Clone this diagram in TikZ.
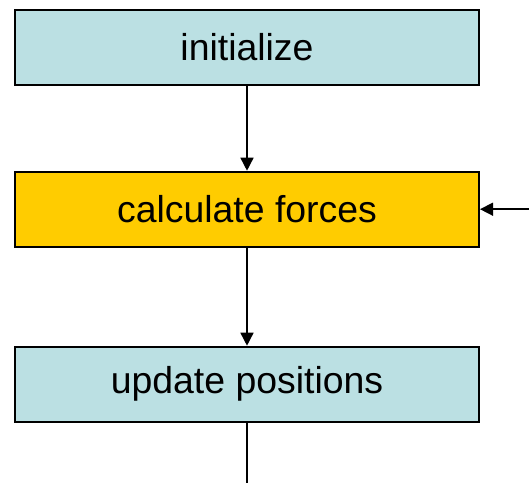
\documentclass[tikz,border=0pt]{standalone}
\usepackage{fontspec}
\setmainfont{Liberation Sans}
\usetikzlibrary{arrows.meta, positioning}
\definecolor{PaleTeal}{HTML}{BBE0E3}
\definecolor{Amber}{HTML}{FFCC00}
\tikzset{
    stepbox/.style={rectangle, draw=black, line width=1pt, fill=PaleTeal,
                    minimum width=232pt, minimum height=37.5pt, inner sep=0pt,
                    font=\fontsize{18.7}{22}\selectfont},
    flow/.style={line width=0.75pt, -{Triangle[length=6.5pt,width=6.5pt]}}
}

\begin{document}
\begin{tikzpicture}[x=0.5pt, y=-0.5pt]
    \useasboundingbox (0,0) rectangle (529,483);

    % the three stages of the loop
    \node[stepbox] (init) at (247,47.3) {initialize};
    \node[stepbox, fill=Amber] (calc) at (247,209.2) {calculate forces};
    \node[stepbox] (update) at (247,384.2) {update positions};

    % loose ends of the cycle
    \coordinate (loopin) at (529,209.2);
    \coordinate (loopout) at (247,483);

    % connectors
    \draw[flow] (init) -- (calc);
    \draw[flow] (calc) -- (update);
    \draw[line width=0.75pt] (update) -- (loopout);
    \draw[flow] (loopin) -- (calc.east);
\end{tikzpicture}
\end{document}
